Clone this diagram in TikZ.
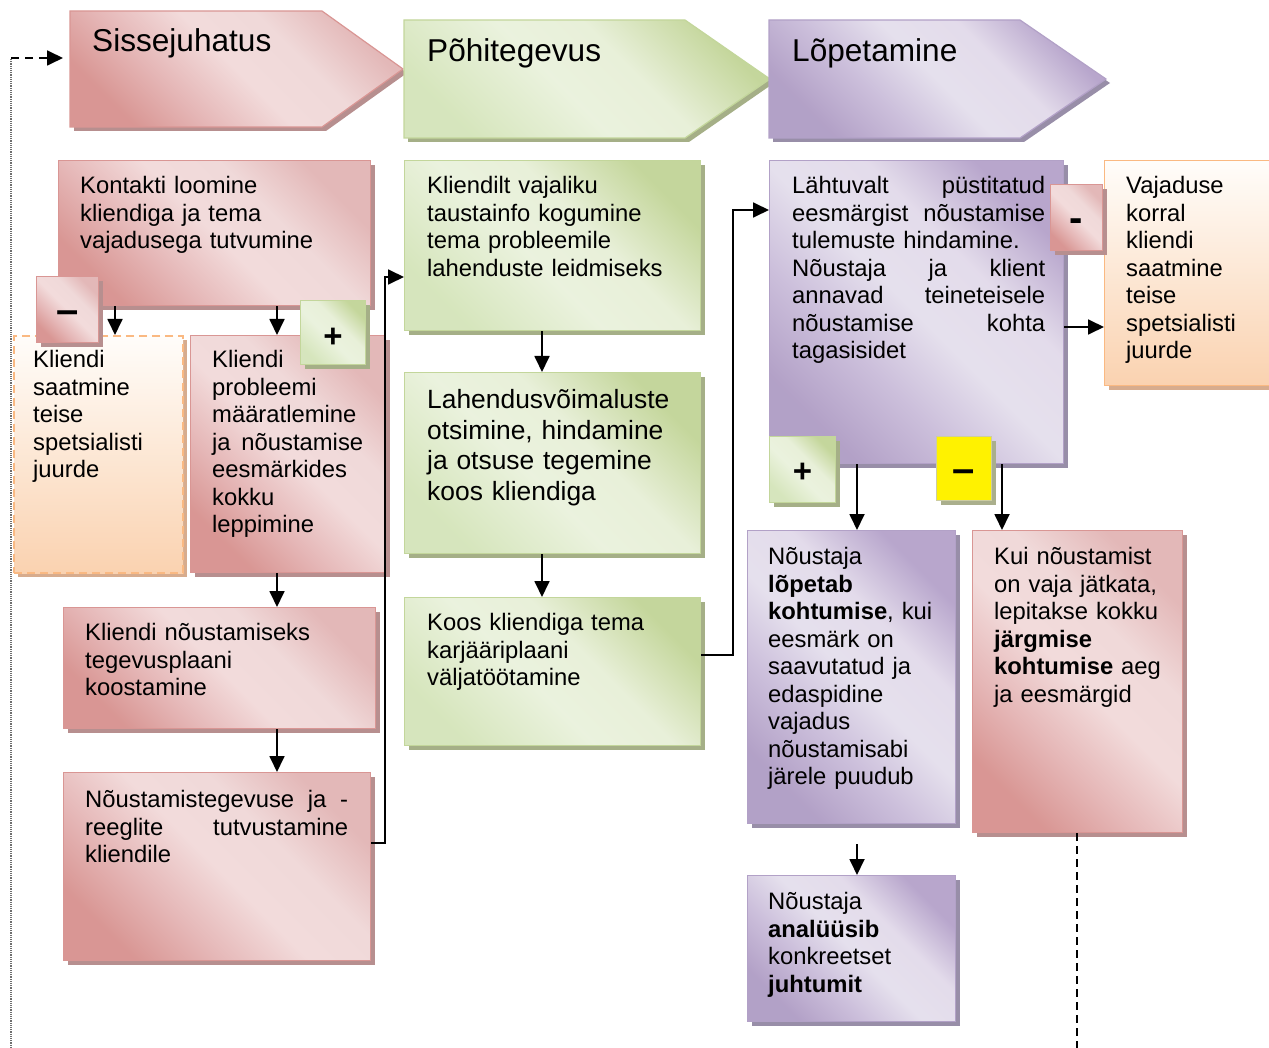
\documentclass[tikz,border=0pt]{standalone}
\usepackage{fontspec}
\setmainfont{Liberation Sans}
\usetikzlibrary{arrows.meta,shadows,calc}
\pgfdeclarehorizontalshading{pinkband}{100bp}{rgb(0bp)=(0.85,0.59,0.58); rgb(25bp)=(0.85,0.59,0.58); rgb(37bp)=(0.90,0.72,0.72); rgb(50bp)=(0.95,0.86,0.86); rgb(62bp)=(0.94,0.85,0.85); rgb(75bp)=(0.89,0.72,0.72); rgb(100bp)=(0.89,0.72,0.72)}
\pgfdeclarehorizontalshading{greenband}{100bp}{rgb(0bp)=(0.84,0.90,0.74); rgb(25bp)=(0.84,0.90,0.74); rgb(45bp)=(0.92,0.95,0.87); rgb(58bp)=(0.91,0.94,0.85); rgb(75bp)=(0.77,0.84,0.61); rgb(100bp)=(0.77,0.84,0.61)}
\pgfdeclarehorizontalshading{purpleband}{100bp}{rgb(0bp)=(0.70,0.63,0.78); rgb(25bp)=(0.70,0.63,0.78); rgb(38bp)=(0.80,0.75,0.86); rgb(50bp)=(0.90,0.88,0.93); rgb(62bp)=(0.89,0.86,0.92); rgb(75bp)=(0.72,0.65,0.80); rgb(100bp)=(0.72,0.65,0.80)}
\definecolor{pkB}{RGB}{217,150,148}
\definecolor{pkS}{RGB}{183,143,143}
\definecolor{grB}{RGB}{195,214,155}
\definecolor{grS}{RGB}{165,175,135}
\definecolor{puB}{RGB}{178,161,199}
\definecolor{puS}{RGB}{152,142,168}
\definecolor{orB}{RGB}{250,185,130}
\definecolor{orS}{RGB}{215,172,142}
\definecolor{orL}{RGB}{255,253,250}
\definecolor{orD}{RGB}{250,210,176}
\definecolor{ylB}{RGB}{205,205,160}
\definecolor{ylS}{RGB}{170,175,140}
\definecolor{dotG}{RGB}{110,110,110}
\newcommand{\jline}[2]{\makebox[#1][l]{#2}}
\newcommand{\badgesym}[2]{\raisebox{#1}[0pt][0pt]{#2}}
\tikzset{
  box/.style={rectangle, anchor=north west, inner sep=0pt, line width=1.2pt},
  pinkfill/.style={shade, shading=pinkband, shading angle=45, draw=pkB,
    drop shadow={shadow xshift=4pt, shadow yshift=-4pt, opacity=1, fill=pkS}},
  greenfill/.style={shade, shading=greenband, shading angle=45, draw=grB,
    drop shadow={shadow xshift=4pt, shadow yshift=-4pt, opacity=1, fill=grS}},
  purplefill/.style={shade, shading=purpleband, shading angle=45, draw=puB,
    drop shadow={shadow xshift=4pt, shadow yshift=-4pt, opacity=1, fill=puS}},
  orangefill/.style={shade, top color=orL, bottom color=orD, draw=orB,
    drop shadow={shadow xshift=4pt, shadow yshift=-4pt, opacity=1, fill=orS}},
  pinkbox/.style={box, pinkfill},
  greenbox/.style={box, greenfill},
  purplebox/.style={box, purplefill},
  orangebox/.style={box, orangefill},
  yellowbox/.style={box, fill=yellow, draw=ylB,
    drop shadow={shadow xshift=4pt, shadow yshift=-4pt, opacity=1, fill=ylS}},
  hdr/.style={line width=1.2pt},
  title/.style={anchor=base west, inner sep=0pt, font=\fontsize{31.6}{36}\selectfont},
  txt/.style={anchor=north west, inner sep=0pt, align=left, text width=300pt,
    font=\fontsize{23.8}{27.5}\selectfont},
  bigtxt/.style={anchor=north west, inner sep=0pt, align=left, text width=300pt,
    font=\fontsize{26.4}{30.4}\selectfont},
  sym/.style={font=\fontsize{33}{33}\selectfont\bfseries},
  bigsym/.style={font=\fontsize{40}{40}\selectfont\bfseries},
  arr/.style={line width=1.8pt, -{Triangle[length=16pt,width=15pt]}},
  dotline/.style={line width=1.8pt, dotG, dash pattern=on 1.2pt off 1pt},
  dashline/.style={line width=1.8pt, dash pattern=on 8pt off 6pt},
}
\begin{document}
\begin{tikzpicture}[x=1pt, y=-1pt]
\useasboundingbox (0,0) rectangle (1269,1048);

% header chevrons
\path[hdr, pinkfill] (70,11) -- (322,11) -- (403,69) -- (322,127) -- (70,127) -- cycle;
\path[hdr, greenfill] (404,20) -- (685,20) -- (770,79) -- (685,138) -- (404,138) -- cycle;
\path[hdr, purplefill] (769,20) -- (1020,20) -- (1106,79) -- (1020,138) -- (769,138) -- cycle;
\node[title] (t1) at (92,52) {Sissejuhatus};
\node[title] (t2) at (427,62) {Põhitegevus};
\node[title] (t3) at (792,62) {Lõpetamine};
\coordinate (h1in) at (70,58);

% boxes
\node[pinkbox, minimum width=312pt, minimum height=145pt] (kon) at (58,160) {};
\node[orangebox, dash pattern=on 8pt off 5pt, line width=2pt, minimum width=169pt, minimum height=237pt] (orl) at (13,335) {};
\node[pinkbox, minimum width=195pt, minimum height=237pt] (prob) at (190,335) {};
\node[pinkbox, minimum width=312pt, minimum height=121pt] (teg) at (63,607) {};
\node[pinkbox, minimum width=307pt, minimum height=188pt] (tut) at (63,772) {};
\node[greenbox, minimum width=296pt, minimum height=170pt] (kl) at (404,160) {};
\node[greenbox, minimum width=296pt, minimum height=181pt] (lah) at (404,372) {};
\node[greenbox, minimum width=296pt, minimum height=148pt] (koos) at (404,597) {};
\node[purplebox, minimum width=294pt, minimum height=303pt] (pur) at (769,160) {};
\node[orangebox, minimum width=190pt, minimum height=225pt] (orr) at (1104,160) {};
\node[purplebox, minimum width=208pt, minimum height=293pt] (nl) at (747,530) {};
\node[pinkbox, minimum width=210pt, minimum height=302pt] (kui) at (972,530) {};
\node[purplebox, minimum width=208pt, minimum height=146pt] (na) at (747,875) {};

% texts
\node[txt] (konT) at (80,174.5) {\strut Kontakti loomine\\kliendiga ja tema\\vajadusega tutvumine};
\node[txt] (orlT) at (33,348.5) {\strut Kliendi\\saatmine\\teise\\spetsialisti\\juurde};
\node[txt] (probT) at (212,348.5) {\strut Kliendi\\probleemi\\määratlemine\\\jline{151pt}{ja\hfill nõustamise}\\eesmärkides\\kokku\\leppimine};
\node[txt] (tegT) at (85,621.5) {\strut Kliendi nõustamiseks\\tegevusplaani\\koostamine};
\node[txt] (tutT) at (85,788.5) {\strut\jline{263pt}{Nõustamistegevuse\hfill ja\hfill -}\\\jline{263pt}{reeglite\hfill tutvustamine}\\kliendile};
\node[txt] (klT) at (427,174.5) {\strut Kliendilt vajaliku\\taustainfo kogumine\\tema probleemile\\lahenduste leidmiseks};
\node[bigtxt] (lahT) at (427,387.5) {\strut Lahendusvõimaluste\\otsimine, hindamine\\ja otsuse tegemine\\koos kliendiga};
\node[txt] (koosT) at (427,611.5) {\strut Koos kliendiga tema\\karjääriplaani\\väljatöötamine};
\node[txt] (purT) at (792,174.5) {\strut\jline{253pt}{Lähtuvalt\hfill püstitatud}\\\jline{253pt}{eesmärgist\hfill nõustamise}\\tulemuste hindamine.\\\jline{253pt}{Nõustaja\hfill ja\hfill klient}\\\jline{253pt}{annavad\hfill teineteisele}\\\jline{253pt}{nõustamise\hfill kohta}\\tagasisidet};
\node[txt] (orrT) at (1126,174.5) {\strut Vajaduse\\korral\\kliendi\\saatmine\\teise\\spetsialisti\\juurde};
\node[txt] (nlT) at (768,545.5) {\strut Nõustaja\\\textbf{lõpetab}\\\textbf{kohtumise}, kui\\eesmärk on\\saavutatud ja\\edaspidine\\vajadus\\nõustamisabi\\järele puudub};
\node[txt] (kuiT) at (994,545.5) {\strut Kui nõustamist\\on vaja jätkata,\\lepitakse kokku\\\textbf{järgmise}\\\textbf{kohtumise} aeg\\ja eesmärgid};
\node[txt] (naT) at (768,890.5) {\strut Nõustaja\\\textbf{analüüsib}\\konkreetset\\\textbf{juhtumit}};

% badges
\node[pinkbox, bigsym, minimum width=62pt, minimum height=66pt] (b1) at (36,276) {\badgesym{-14pt}{--}};
\node[greenbox, sym, minimum width=65pt, minimum height=64pt] (b2) at (300,300) {\badgesym{-15pt}{+}};
\node[pinkbox, bigsym, minimum width=52pt, minimum height=66pt] (b3) at (1050,184) {\badgesym{-14pt}{-}};
\node[greenbox, sym, minimum width=66pt, minimum height=66pt] (b4) at (769,436) {\badgesym{-13pt}{+}};
\node[yellowbox, bigsym, minimum width=55pt, minimum height=64pt] (b5) at (936,436) {\badgesym{-14pt}{--}};

% connectors
\draw[arr] (kon.south -| 115,0) -- (orl.north -| 115,0);
\draw[arr] (kon.south -| 277,0) -- (prob.north -| 277,0);
\draw[arr] (prob.south -| 277,0) -- (teg.north -| 277,0);
\draw[arr] (teg.south -| 277,0) -- (tut.north -| 277,0);
\draw[arr] (tut.east |- 0,843) -| (385,277) -- (kl.west |- 0,277);
\draw[arr] (kl.south -| 542,0) -- (lah.north -| 542,0);
\draw[arr] (lah.south -| 542,0) -- (koos.north -| 542,0);
\draw[arr] (koos.east |- 0,655) -| (733,210) -- (pur.west |- 0,210);
\draw[arr] (pur.east |- 0,327) -- (orr.west |- 0,327);
\draw[arr] (pur.south -| 857,0) -- (nl.north -| 857,0);
\draw[arr] (pur.south -| 1002,0) -- (kui.north -| 1002,0);
\draw[arr] ($(nl.south -| 857,0)+(0,20)$) -- (na.north -| 857,0);

% loop lines
\coordinate (loopbot) at (11,1048);
\coordinate (looptop) at (11,58);
\coordinate (kuiend) at (1077,1048);
\draw[dotline] (loopbot) -- (looptop);
\draw[dashline, -{Triangle[length=16pt,width=15pt]}, shorten >=7pt] (looptop) -- (h1in);
\draw[dashline, dash pattern=on 8pt off 5pt] (kui.south -| kuiend) -- (kuiend);
\end{tikzpicture}
\end{document}
